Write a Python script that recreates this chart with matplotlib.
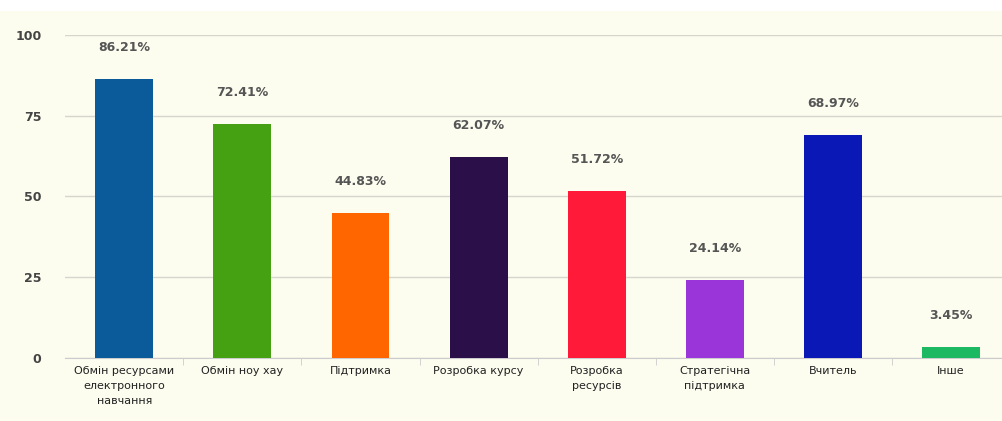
import matplotlib.pyplot as plt
import numpy as np

categories = ['Обмін ресурсами\nелектронного\nнавчання', 'Обмін ноу хау', 'Підтримка', 'Розробка курсу',
              'Розробка\nресурсів', 'Стратегічна\nпідтримка', 'Вчитель', 'Інше']
values = [86.21, 72.41, 44.83, 62.07, 51.72, 24.14, 68.97, 3.45]
colors = ['#0b5a9a', '#45a012', '#ff6600', '#2b0f48', '#ff1a3a', '#9a35da', '#0a18b5', '#1cb862']

bg = '#fcfcef'
fig = plt.figure(figsize=(10.03, 4.21), dpi=100, facecolor=bg)
# thin white strip along the top edge
fig.patches.append(plt.Rectangle((0, 0.975), 1, 0.025, transform=fig.transFigure,
                                 facecolor='white', edgecolor='none'))
ax = fig.add_axes([0.065, 0.15, 0.935, 0.767], facecolor=bg)

x = np.arange(len(categories))
ax.bar(x, values, width=0.49, color=colors, zorder=3)

# value labels above bars
for xi, v in zip(x, values):
    ax.annotate(f'{v:.2f}%', (xi, v), xytext=(0, 18), textcoords='offset points',
                ha='center', va='bottom', fontsize=9, color='#555555', fontweight='bold')

ax.set_ylim(0, 100)
ax.set_xlim(-0.5, 7.44)
ax.set_yticks([0, 25, 50, 75, 100])
ax.set_yticklabels(['0', '25', '50', '75', '100'], fontsize=9, fontweight='bold', color='#444444')
ax.yaxis.grid(True, color='#d6d6cc', linewidth=1, zorder=0)
ax.tick_params(axis='y', length=0, pad=17)

ax.set_xticks(x)
ax.set_xticklabels(categories, fontsize=8, color='#222222', linespacing=1.6)
ax.set_xticks(np.arange(0.5, 7.5, 1), minor=True)
ax.tick_params(axis='x', which='major', length=0, pad=6)
ax.tick_params(axis='x', which='minor', length=5, color='#cccccc')

for side in ['top', 'right', 'left']:
    ax.spines[side].set_visible(False)
ax.spines['bottom'].set_color('#cccccc')

fig.savefig('out.png', dpi=100, facecolor=bg)
